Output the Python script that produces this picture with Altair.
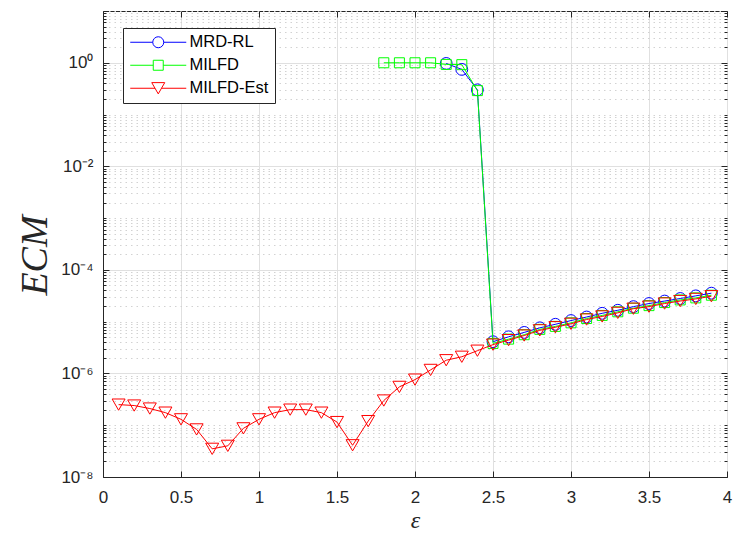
import altair as alt
import pandas as pd

# ---------------- data ----------------
x_est = [0.1, 0.2, 0.3, 0.4, 0.5, 0.6, 0.7, 0.8, 0.9, 1.0,
         1.1, 1.2, 1.3, 1.4, 1.5, 1.6, 1.7, 1.8, 1.9, 2.0,
         2.1, 2.2, 2.3, 2.4, 2.5, 2.6, 2.7, 2.8, 2.9, 3.0,
         3.1, 3.2, 3.3, 3.4, 3.5, 3.6, 3.7, 3.8, 3.9]
y_est = [2.5e-7, 2.4e-7, 2.1e-7, 1.75e-7, 1.3e-7, 8.3e-8, 3.5e-8, 4.0e-8, 8.7e-8, 1.3e-7,
         1.75e-7, 2.0e-7, 2.0e-7, 1.75e-7, 1.15e-7, 4.1e-8, 1.2e-7, 3.0e-7, 5.5e-7, 7.6e-7,
         1.17e-6, 1.8e-6, 2.1e-6, 2.75e-6, 3.6e-6, 4.4e-6, 5.4e-6, 6.8e-6, 7.8e-6, 9.1e-6,
         1.1e-5, 1.26e-5, 1.48e-5, 1.78e-5, 1.95e-5, 2.24e-5, 2.5e-5, 2.75e-5, 3.1e-5]

x_milfd = [1.8, 1.9, 2.0, 2.1, 2.2, 2.3, 2.4, 2.5, 2.6, 2.7, 2.8,
           2.9, 3.0, 3.1, 3.2, 3.3, 3.4, 3.5, 3.6, 3.7, 3.8, 3.9]
y_milfd = [1.0, 1.0, 1.0, 1.0, 0.93, 0.92, 0.29, 3.8e-6, 4.6e-6, 5.6e-6, 7.1e-6,
           8.1e-6, 9.5e-6, 1.15e-5, 1.32e-5, 1.55e-5, 1.82e-5, 2.04e-5, 2.34e-5, 2.63e-5, 2.88e-5, 3.24e-5]

x_mrd = [2.2, 2.3, 2.4, 2.5, 2.6, 2.7, 2.8, 2.9, 3.0,
         3.1, 3.2, 3.3, 3.4, 3.5, 3.6, 3.7, 3.8, 3.9]
y_mrd = [0.97, 0.745, 0.30, 4.1e-6, 5.1e-6, 6.2e-6, 7.6e-6, 8.9e-6, 1.05e-5,
         1.23e-5, 1.45e-5, 1.66e-5, 1.95e-5, 2.24e-5, 2.5e-5, 2.8e-5, 3.15e-5, 3.55e-5]

series_names = ["MRD-RL", "MILFD", "MILFD-Est"]
series_colors = ["#0000ff", "#00ff00", "#ff0000"]

x_ticks = [0, 0.5, 1, 1.5, 2, 2.5, 3, 3.5, 4]
y_major = [1e-8, 1e-6, 1e-4, 1e-2, 1]
y_minor = [k * 10.0 ** n for n in range(-8, 1) for k in range(1, 10)
           if not (k == 1 and n % 2 == 0)] + [10.0]

# ---------------- style ----------------
FONT = "Liberation Sans"
SERIF = "Liberation Serif"
DARK = "#262626"
W, H = 624, 466

xscale = alt.Scale(domain=[0, 4], nice=False, zero=False)
yscale = alt.Scale(type="log", domain=[1e-8, 10], nice=False)

y_lab = ("datum.value > 0.5 ? '10⁰' : datum.value > 0.005 ? '10⁻²' : "
         "datum.value > 5e-5 ? '10⁻⁴' : datum.value > 5e-7 ? '10⁻⁶' : '10⁻⁸'")

ax_bottom = alt.Axis(orient="bottom", values=x_ticks, format="~g", grid=True,
                     gridColor="#e0e0e0", gridWidth=1, domainColor=DARK,
                     tickColor=DARK, tickSize={"expr": "-6"}, labelFont=FONT,
                     labelFontSize=17, labelColor=DARK, labelPadding=18,
                     labelFlush=False, labelOverlap=False,
                     title="ε", titleFont=SERIF, titleFontStyle="italic",
                     titleFontWeight="normal", titleFontSize=24, titleColor=DARK,
                     titleX=312, titleY=43, titleAlign="center", titleBaseline="middle")
ax_left = alt.Axis(orient="left", values=y_major, labelExpr=y_lab, grid=True,
                   gridColor="#e0e0e0", gridWidth=1, domainColor=DARK,
                   tickColor=DARK, tickSize={"expr": "-6"}, labelFont=FONT,
                   labelFontSize=17, labelColor=DARK, labelPadding=16,
                   labelFlush=False, labelOverlap=False,
                   title="ECM", titleFont=SERIF, titleFontStyle="italic",
                   titleFontWeight="normal", titleFontSize=38, titleColor=DARK,
                   titleX=-68, titleY=244, titleAngle=270, titleAlign="center",
                   titleBaseline="middle")
ax_top = alt.Axis(orient="top", values=x_ticks, labels=False, grid=False,
                  domain=False, tickColor=DARK, tickSize={"expr": "-6"}, title=None)
ax_right = alt.Axis(orient="right", values=y_major, labels=False, grid=False,
                    domain=False, tickColor=DARK, tickSize={"expr": "-6"}, title=None)
ax_minor_left = alt.Axis(orient="left", values=y_minor, labels=False, grid=True,
                         gridColor="#d2d2d2", gridDash=[1.5, 4], gridWidth=1,
                         domain=False, tickColor=DARK, tickSize={"expr": "-3"}, title=None)
ax_minor_right = alt.Axis(orient="right", values=y_minor, labels=False, grid=False,
                          domain=False, tickColor=DARK, tickSize={"expr": "-3"}, title=None)


def series_df(xs, ys):
    return pd.DataFrame({"x": xs, "y": ys})


def enc(xaxis, yaxis):
    return dict(
        x=alt.X("x:Q", scale=xscale, axis=xaxis),
        y=alt.Y("y:Q", scale=yscale, axis=yaxis),
    )


df_mrd = series_df(x_mrd, y_mrd)
df_milfd = series_df(x_milfd, y_milfd)
df_est = series_df(x_est, y_est)

blue_line = alt.Chart(df_mrd).mark_line(color=series_colors[0], strokeWidth=1).encode(
    **enc(ax_bottom, ax_left))
blue_pts = alt.Chart(df_mrd).mark_point(shape="circle", size=140, filled=False,
                                        color=series_colors[0], strokeWidth=1, opacity=1).encode(
    **enc(ax_top, ax_right))
green_line = alt.Chart(df_milfd).mark_line(color=series_colors[1], strokeWidth=1).encode(
    **enc(None, ax_minor_left))
green_pts = alt.Chart(df_milfd).mark_point(shape="square", size=100, filled=False,
                                           color=series_colors[1], strokeWidth=1, opacity=1).encode(
    **enc(None, ax_minor_right))
red_line = alt.Chart(df_est).mark_line(color=series_colors[2], strokeWidth=1).encode(
    **enc(None, None))
red_pts = alt.Chart(df_est).mark_point(shape="triangle-down", size=169, filled=False,
                                       color=series_colors[2], strokeWidth=1, opacity=1).encode(
    **enc(None, None))

# legend-only layer (empty data, explicit domains)
circle_path = "M-4.667,0L-0.917,0A0.917,0.917,0,1,1,0.917,0A0.917,0.917,0,1,1,-0.917,0M0.917,0L4.667,0"
square_path = "M-4.667,0L-0.833,0M-0.833,-0.833L0.833,-0.833L0.833,0.833L-0.833,0.833ZM0.833,0L4.667,0"
tri_path = "M-4.667,0L-0.54,0M-1.083,-0.94L1.083,-0.94L0,0.94ZM0.54,0L4.667,0"

leg = alt.Legend(title=None, orient="none", legendX=20, legendY=17, padding=6,
                 strokeColor=DARK, fillColor="white", cornerRadius=0,
                 symbolSize=144, symbolStrokeWidth=1, symbolOffset=21,
                 labelOffset=23, labelFont=FONT, labelFontSize=16.5, labelColor="black",
                 rowPadding=6, labelLimit=300)

legend_layer = alt.Chart(pd.DataFrame({"s": series_names})).mark_point(
    filled=False, strokeWidth=1, opacity=1).encode(
    color=alt.Color("s:N", scale=alt.Scale(domain=series_names, range=series_colors), legend=leg),
    shape=alt.Shape("s:N", scale=alt.Scale(domain=series_names,
                                           range=[circle_path, square_path, tri_path]), legend=leg),
).transform_filter("false")

chart = alt.layer(
    blue_line, blue_pts, green_line, green_pts, red_line, red_pts, legend_layer
).resolve_axis(x="independent", y="independent").properties(
    width=W, height=H,
    autosize=alt.AutoSizeParams(type="none"),
    padding={"left": 103, "top": 11, "right": 6, "bottom": 63},
    background="white",
).configure_view(stroke=DARK, strokeWidth=1)

chart.save("out.html", embed_options={"renderer": "svg", "actions": False})
